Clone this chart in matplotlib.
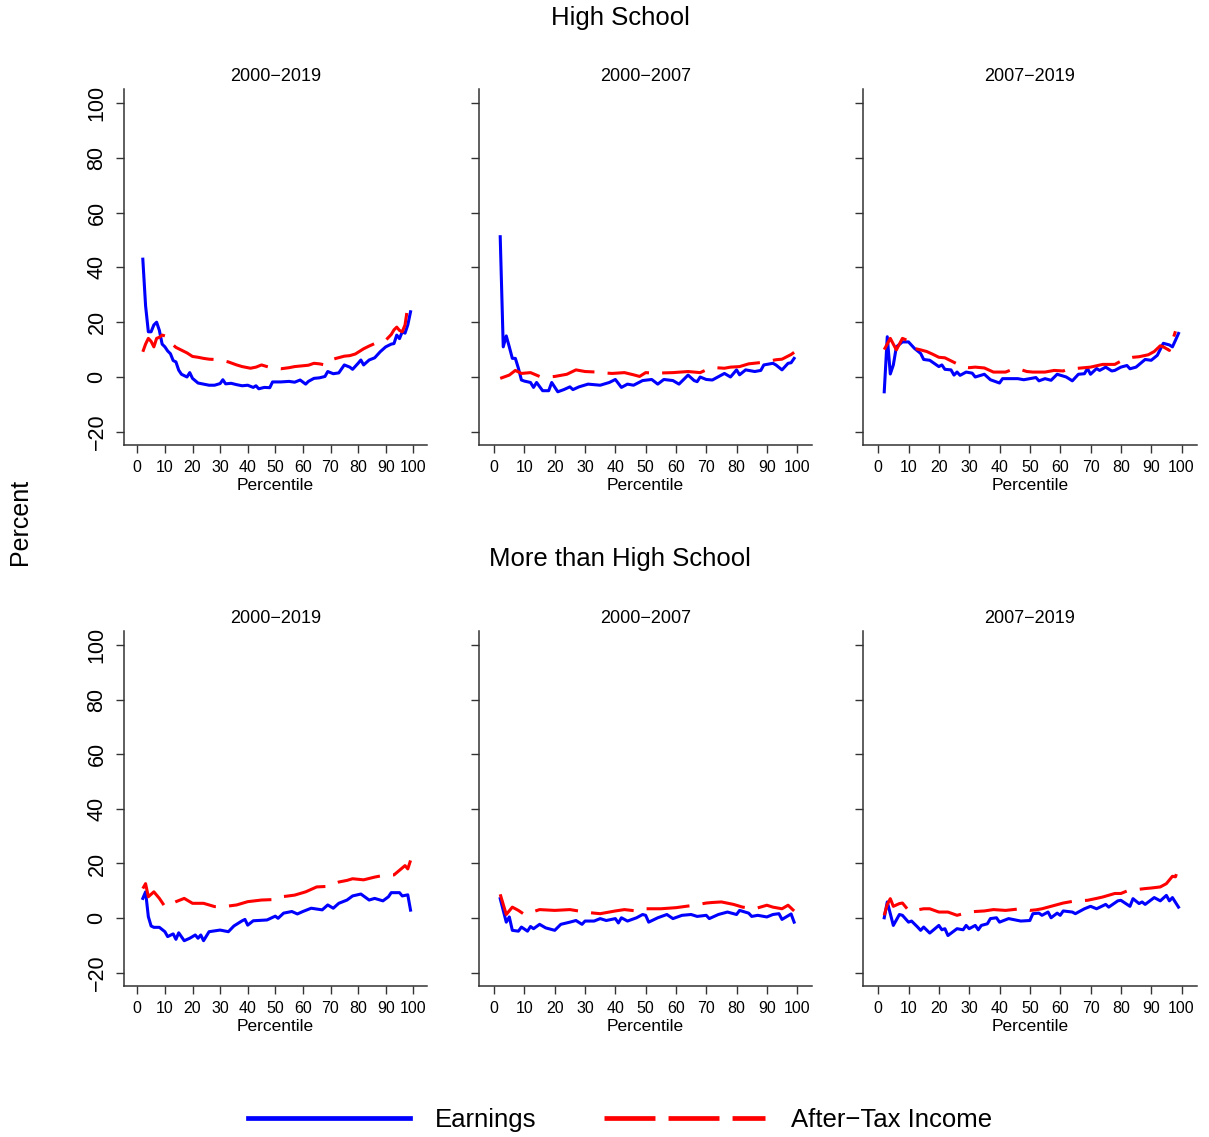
import matplotlib
matplotlib.use("Agg")
import matplotlib.pyplot as plt
from matplotlib.lines import Line2D

plt.rcParams['font.family'] = ['Liberation Sans', 'DejaVu Sans']
plt.rcParams['lines.scale_dashes'] = False

# ---- data: percent change by percentile ----
# High School, 2000-2019
hs_a_earn_x = [2,3,4,5,6,7,8,9,10,11,12,13,14,15,16,17,18,19,20,22,24,26,28,30,31,32,34,36,38,40,
               42,43,44,46,48,49,52,55,57,59,61,62,64,66,68,69,71,73,75,77,78,80,81,82,84,86,88,90,
               92,93,94,95,96,97,98,99]
hs_a_earn_y = [43,26,16.5,16.5,19,20,17,12,11,9.5,8.5,6,5.5,2.5,1,0.5,0,1.6,-0.5,
               -2.2,-2.6,-3,-3,-2.4,-1,-2.5,-2.3,-2.8,-3.2,-3,
               -3.8,-3.2,-4.3,-3.8,-3.9,-1.8,
               -1.8,-1.6,-1.9,-1.1,-2.6,-1.6,-0.5,-0.3,0.2,2,
               1.2,1.5,4.4,3.6,2.8,5.0,6.2,4.4,6.2,7.0,9.2,11,
               12,12.2,15.3,14.0,16.5,16,19,23.8]
hs_a_tax_x = [2,3,4,5,6,7,8,9,10,11,12,13,14,16,18,20,22,24,26,28,30,33,36,38,41,43,45,47,49,
              52,55,57,59,62,64,66,68,70,72,75,77,79,82,84,86,88,90,92,93,94,95,96,97,98,99]
hs_a_tax_y = [9.2,12,14.1,13,11,14.1,14.5,15.3,15,13.5,12.5,11.7,10.8,
              9.8,8.8,7.5,7.2,6.8,6.5,6.4,6.2,
              5.5,4.4,3.8,3.2,3.6,4.4,3.8,3.2,
              3.0,3.4,3.8,4.0,4.3,5.0,4.8,4.4,6.2,6.8,
              7.6,7.8,8.4,10.3,11.3,12.2,12.8,13.4,
              15.5,17.2,18.2,17,16.5,19,25.7,26.7]

# High School, 2000-2007
hs_b_earn_x = [2,3,4,5,6,7,8,9,10,12,13,14,16,18,19,21,23,25,26,28,31,35,38,40,
               42,44,46,49,52,54,56,59,61,64,66,67,68,70,72,76,78,80,81,83,86,88,89,
               92,93,95,97,98,99]
hs_b_earn_y = [51.2,11,15,11,6.8,6.8,3.2,-1.1,-1.5,
               -2,-3.8,-2,-5,-5,-2,
               -5.4,-4.6,-3.6,-4.6,-3.6,-2.6,-3,-2,-0.9,
               -3.8,-2.6,-3,-1.3,-0.9,-2.6,-0.9,-1.3,-2.6,
               0.7,-1.3,-1.7,0,-0.9,-1.1,1.3,0,2.6,0.8,2.6,2.0,2.4,4.4,
               5,4.4,2.6,5,5.2,6.8]
hs_b_tax_x = [2,5,7,9,12,15,17,20,24,27,30,34,36,39,43,46,48,50,54,56,
              59,64,68,70,73,76,78,81,84,89,93,95,98,99]
hs_b_tax_y = [-0.5,0.7,2.4,1.3,1.6,0.2,0.0,0.2,1.0,2.6,
              2.0,1.8,1.5,1.3,1.6,0.8,0.2,1.6,1.3,1.5,
              1.6,2.0,1.6,2.6,3.4,3.2,3.6,3.8,4.8,5.4,
              6.3,6.5,8.2,9]

# High School, 2007-2019
hs_c_earn_x = [2,3,4,5,6,8,10,12,14,15,17,20,21,22,24,25,26,27,29,31,
               32,35,37,40,41,46,48,52,53,55,57,59,62,64,66,68,69,70,72,73,
               75,77,78,80,82,83,85,88,90,92,94,96,97,98,99]
hs_c_earn_y = [-5.4,14.7,1.1,4.4,11,12.8,12.8,10.4,8.6,6.4,
               6.1,3.8,4.4,2.8,2.6,0.7,1.8,0.6,1.8,1.4,
               0,1.0,-1.0,-2.2,-0.6,-0.6,-1.0,-0.2,-1.4,-0.6,
               -1.2,1.0,0,-1.4,1.0,1.2,3.1,1.0,3.1,2.4,
               3.6,2.2,2.4,3.6,4.2,3.0,3.6,6.4,6.1,7.9,
               12.3,11.7,11,13.4,15.9]
hs_c_tax_x = [2,4,6,8,10,12,14,16,18,20,22,24,26,28,30,32,35,38,42,45,
              47,49,51,55,58,61,63,65,67,70,74,78,81,84,86,89,91,93,94,96,98]
hs_c_tax_y = [10.0,14.1,9.9,14.1,13.2,10.4,9.9,9.3,8.3,7.2,
              7.0,5.9,4.8,3.6,3.4,3.6,3.3,1.8,1.8,3.1,
              2.7,2.0,1.8,1.8,2.4,2.2,3.1,3.1,3.3,3.6,
              4.6,4.6,6.4,7.2,7.4,8.1,9.3,11.4,11.0,9.7,16.7]

# More than High School, 2000-2019
mhs_a_earn_x = [2,3,4,5,6,8,10,11,13,14,15,17,19,21,22,23,24,26,30,33,
                35,38,39,40,42,47,50,51,53,56,58,60,63,67,69,71,73,76,78,81,
                84,86,89,91,92,95,96,98,99]
mhs_a_earn_y = [7.2,9.6,0.5,-2.9,-3.4,-3.4,-5.0,-6.8,-5.8,-7.8,
                -5.4,-8.3,-7.4,-6.2,-7.4,-6.2,-8.3,-5.0,-4.4,-5.0,
                -2.9,-1.0,-0.5,-2.6,-1.0,-0.7,0.7,-0.1,1.8,2.4,
                1.5,2.4,3.6,3.0,4.8,3.6,5.4,6.6,8.1,8.8,
                6.6,7.2,6.3,7.8,9.3,9.3,8.1,8.5,2.9]
mhs_a_tax_x = [2,3,4,6,8,10,12,14,17,20,24,28,31,33,36,40,45,50,52,54,
               57,61,65,69,71,73,76,78,82,86,90,93,95,97,98,99]
mhs_a_tax_y = [10.8,12.6,7.8,9.6,7.2,4.2,5.0,6.0,7.2,5.4,
               5.4,4.2,4.2,4.4,4.8,6.0,6.6,6.8,7.8,8.0,
               8.4,9.6,11.4,11.6,12.4,13.2,13.8,14.4,14.0,15.0,
               15.8,15.8,17.5,19.2,18.0,21.1]

# More than High School, 2000-2007
mhs_b_earn_x = [2,4,5,6,8,9,11,12,13,15,17,20,22,25,27,29,30,33,35,37,
                40,41,42,44,47,49,50,51,54,57,59,62,65,67,70,71,74,77,80,81,
                84,85,87,90,92,94,95,98,99]
mhs_b_earn_y = [7.1,-1.5,0.4,-4.5,-4.8,-3.3,-4.8,-3.1,-3.9,-2.3,
                -3.6,-4.5,-2.3,-1.5,-0.9,-2.3,-1.1,-1.1,-0.2,-0.9,
                -0.2,-1.8,0.1,-1.1,0.1,1.3,1.0,-1.5,0.1,1.3,
                -0.2,1.0,1.3,0.6,1.0,-0.2,1.3,2.2,1.3,2.8,
                1.8,0.6,1.0,0.4,1.3,1.6,-0.5,1.5,-1.5]
mhs_b_tax_x = [2,3,4,6,8,10,12,15,20,25,30,33,35,40,43,47,50,52,55,60,
               66,70,72,75,79,82,86,90,92,95,97,99]
mhs_b_tax_y = [8.7,5.0,1.3,4.0,2.8,1.3,2.0,3.1,2.8,3.1,
               2.2,1.8,1.6,2.6,3.1,2.6,3.4,3.4,3.4,3.8,
               4.7,5.5,5.7,5.9,5.0,4.0,3.4,4.7,4.0,3.4,
               4.7,2.6]

# More than High School, 2007-2019
mhs_c_earn_x = [2,3,5,7,8,10,11,13,14,15,17,20,21,22,23,26,28,29,30,32,
                33,34,36,37,39,40,43,47,50,51,53,54,56,57,59,60,61,64,65,68,
                70,72,75,76,79,80,83,84,86,87,88,91,93,95,96,97,99]
mhs_c_earn_y = [0.1,5.9,-2.7,1.3,1.0,-1.5,-1.1,-3.3,-4.5,-3.3,
                -5.5,-2.7,-4.3,-3.9,-6.4,-3.9,-4.3,-2.7,-3.9,-2.7,
                -4.3,-2.7,-2.1,-0.2,0.1,-1.5,-0.2,-1.1,-0.9,1.6,
                1.8,1.0,2.2,0.1,1.8,1.0,2.6,2.2,1.6,3.4,
                4.3,3.4,5.0,4.0,6.3,6.5,4.3,7.1,5.3,5.9,
                5.0,7.5,6.3,8.3,6.3,7.5,4.0]
mhs_c_tax_x = [2,3,4,5,7,8,10,12,15,17,20,23,26,28,30,32,35,38,42,47,
               50,52,54,57,61,65,69,72,74,78,80,82,85,88,90,93,95,97,98,99]
mhs_c_tax_y = [1.0,5.0,7.1,4.3,5.3,5.5,2.8,2.8,3.4,3.4,
               2.2,2.2,1.0,1.6,2.2,2.4,2.6,3.1,2.8,3.4,
               2.8,3.0,3.4,4.3,5.5,6.3,6.5,7.2,7.7,9.0,
               9.0,9.9,10.4,10.8,11.0,11.4,12.6,15.3,15.1,18.5]

periods = ['2000\u22122019', '2000\u22122007', '2007\u22122019']
groups = ['High School', 'More than High School']
series = [
    [(hs_a_earn_x, hs_a_earn_y, hs_a_tax_x, hs_a_tax_y),
     (hs_b_earn_x, hs_b_earn_y, hs_b_tax_x, hs_b_tax_y),
     (hs_c_earn_x, hs_c_earn_y, hs_c_tax_x, hs_c_tax_y)],
    [(mhs_a_earn_x, mhs_a_earn_y, mhs_a_tax_x, mhs_a_tax_y),
     (mhs_b_earn_x, mhs_b_earn_y, mhs_b_tax_x, mhs_b_tax_y),
     (mhs_c_earn_x, mhs_c_earn_y, mhs_c_tax_x, mhs_c_tax_y)],
]

W, H = 1209, 1137
fig = plt.figure(figsize=(W / 100, H / 100), dpi=100)

# panel geometry in pixels
col_left = [123.5, 479, 863]
col_width = [303.6, 333.3, 333.7]
row_top = [89.3, 631.4]
row_height = [356.2, 354.9]

dash = (0, (31, 9.5))

for r in range(2):
    for c in range(3):
        ax = fig.add_axes([col_left[c] / W, 1 - (row_top[r] + row_height[r]) / H,
                           col_width[c] / W, row_height[r] / H])
        ex, ey, tx, ty = series[r][c]
        ax.plot(ex, ey, color='blue', lw=2.2, solid_joinstyle='round')
        ax.plot(tx, ty, color='red', lw=2.2, linestyle=dash)
        ax.set_xlim(-5, 105)
        ax.set_ylim(-25, 105)
        ax.set_xticks(range(0, 101, 10))
        ax.set_yticks(range(-20, 101, 20))
        for s in ['top', 'right']:
            ax.spines[s].set_visible(False)
        for s in ['left', 'bottom']:
            ax.spines[s].set_linewidth(1.1)
            ax.spines[s].set_color('#333333')
        ax.tick_params(direction='out', length=5.5, width=1.0, color='#333333')
        ax.tick_params(axis='x', labelsize=11.5, pad=5)
        if c == 0:
            ax.tick_params(axis='y', labelsize=15.5, labelrotation=90, pad=6)
            for lab in ax.get_yticklabels():
                lab.set_va('center')
        else:
            ax.tick_params(axis='y', labelleft=False)
        ax.set_xlabel('Percentile', fontsize=12.5, labelpad=2)
        ax.set_title(periods[c], fontsize=13, pad=6)

fig.text(620 / W, 1 - 18 / H, groups[0], fontsize=18.5, ha='center', va='center')
fig.text(620 / W, 1 - 559 / H, groups[1], fontsize=18.5, ha='center', va='center')
fig.text(20 / W, 1 - 522 / H, 'Percent', fontsize=18, rotation=90, ha='center', va='center')

handles = [Line2D([], [], color='blue', lw=3.4),
           Line2D([], [], color='red', lw=3.4, linestyle=(0, (36.7, 9.4)))]
fig.legend(handles, ['Earnings', 'After\u2212Tax Income'], loc='center',
           bbox_to_anchor=(620 / W, 1 - 1120 / H), ncol=2, frameon=False,
           fontsize=18.5, handlelength=6.3, handletextpad=1.0, columnspacing=2.6)

fig.savefig('out.png', dpi=100)
